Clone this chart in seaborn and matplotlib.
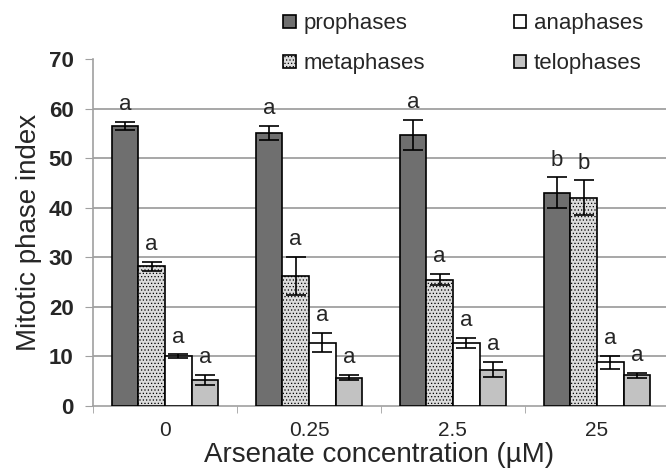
import pandas as pd
import numpy as np
import matplotlib
matplotlib.use('Agg')
import matplotlib.pyplot as plt
import seaborn as sns

# ==========================================
# DATA
# ==========================================
concentrations = ['0', '0.25', '2.5', '25']
phases = ['prophases', 'metaphases', 'anaphases', 'telophases']

prophases = [56.5, 55.0, 54.7, 43.0]
metaphases = [28.2, 26.2, 25.5, 42.0]
anaphases = [10.0, 12.8, 12.8, 8.8]
telophases = [5.2, 5.7, 7.3, 6.2]

prophases_err = [0.8, 1.4, 3.0, 3.1]
metaphases_err = [0.9, 3.8, 1.1, 3.5]
anaphases_err = [0.4, 2.0, 1.0, 1.3]
telophases_err = [1.0, 0.5, 1.5, 0.5]

prophases_sig = ['a', 'a', 'a', 'b']
metaphases_sig = ['a', 'a', 'a', 'b']
anaphases_sig = ['a', 'a', 'a', 'a']
telophases_sig = ['a', 'a', 'a', 'a']

values = [prophases, metaphases, anaphases, telophases]
errors = [prophases_err, metaphases_err, anaphases_err, telophases_err]
letters = [prophases_sig, metaphases_sig, anaphases_sig, telophases_sig]

df = pd.DataFrame({
    'conc': np.tile(concentrations, len(phases)),
    'phase': np.repeat(phases, len(concentrations)),
    'value': np.concatenate(values),
})

# ==========================================
# STYLE
# ==========================================
sns.set_style('white')
plt.rcParams['font.family'] = ['Liberation Sans', 'DejaVu Sans']

face = {'prophases': '#6f6f6f', 'metaphases': '#dcdcdc',
        'anaphases': '#ffffff', 'telophases': '#c2c2c2'}
hatch = {'prophases': '', 'metaphases': '.....',
         'anaphases': '', 'telophases': ''}
plt.rcParams['hatch.color'] = '#a8a8a8'
plt.rcParams['hatch.linewidth'] = 0.5

fig = plt.figure(figsize=(6.66, 4.73), dpi=100)
ax = fig.add_axes([93 / 666, 67 / 473, 573 / 666, 347 / 473])

sns.barplot(data=df, x='conc', y='value', hue='phase', order=concentrations,
            hue_order=phases, palette=face, width=0.74, errorbar=None,
            edgecolor='black', linewidth=1.2, saturation=1, ax=ax, zorder=3)

bar_containers = list(ax.containers)

# hatches + error bars + significance letters
for i, cont in enumerate(bar_containers):
    ph = phases[i]
    for j, bar in enumerate(cont.patches):
        bar.set_hatch(hatch[ph])
        bar.set_edgecolor('black')
        cx = bar.get_x() + bar.get_width() / 2
        top = bar.get_height()
        ax.errorbar(cx, top, yerr=errors[i][j], color='black', capsize=7,
                    elinewidth=1.2, capthick=1.2, zorder=4)
        ax.annotate(letters[i][j], (cx, top + errors[i][j]),
                    xytext=(0, 5), textcoords='offset points',
                    ha='center', va='bottom', fontsize=16)

# legend above the plot
handles = [c.patches[0] for c in bar_containers]
if ax.get_legend() is not None:
    ax.get_legend().remove()
fig.legend(handles, phases, ncol=2, loc='upper left',
           bbox_to_anchor=(270 / 666, 1.0), frameon=False, fontsize=16,
           handlelength=0.55, handleheight=0.55, handletextpad=0.35,
           labelspacing=0.85, columnspacing=4.0, borderaxespad=0.2)

# axes
ax.set_ylim(0, 70)
ax.set_xlim(-0.5, 3.48)
ax.set_yticks(range(0, 71, 10))
ax.yaxis.grid(True, color='#a0a0a0', linewidth=1.3, zorder=0)
ax.yaxis.get_gridlines()[-1].set_visible(False)
ax.yaxis.get_gridlines()[0].set_visible(False)
ax.set_axisbelow(True)
for s in ['top', 'right']:
    ax.spines[s].set_visible(False)
for s in ['left', 'bottom']:
    ax.spines[s].set_color('#a0a0a0')
    ax.spines[s].set_linewidth(1.2)
ax.tick_params(axis='y', direction='out', length=6, color='#a0a0a0',
               labelsize=16, pad=8, left=True)
for lab in ax.get_yticklabels():
    lab.set_fontweight('bold')
ax.tick_params(axis='x', which='major', length=0, labelsize=15, pad=11)
ax.set_xticks([-0.5, 0.5, 1.5, 2.5], minor=True)
ax.tick_params(axis='x', which='minor', direction='out', length=5,
               color='#a0a0a0', bottom=True)

ax.set_xlabel('Arsenate concentration (µM)', fontsize=20, labelpad=1)
ax.set_ylabel('Mitotic phase index', fontsize=20, labelpad=5)

plt.savefig('out.png', dpi=100)
